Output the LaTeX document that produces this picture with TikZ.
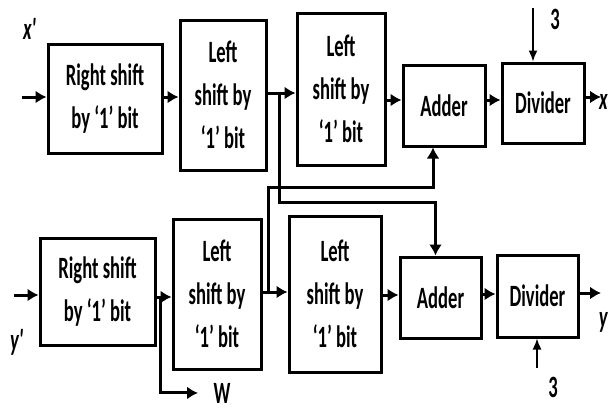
\documentclass[tikz,border=0pt]{standalone}
\usepackage{fontspec}
\setmainfont{Carlito}[FakeStretch=0.6]
\usetikzlibrary{arrows.meta}

\begin{document}
\begin{tikzpicture}[
    x=1pt, y=-1pt, line width=3pt,
    font={\fontsize{31pt}{43pt}\selectfont\bfseries},
    blk/.style={draw, align=center, inner sep=0pt},
    sig/.style={-{Latex[length=11pt,width=13pt]}},
    const/.style={line width=1.5pt, -{Latex[length=11pt,width=9pt]}},
    lbl/.style={inner sep=0pt},
]
\useasboundingbox (0,0) rectangle (610,410);
% upper path (x')
\node[blk, minimum width=114pt, minimum height=109pt] (rsx) at (105,98.5) {Right shift\\by ‘1’ bit};
\node[blk, minimum width=86pt, minimum height=150pt] (lsa) at (223,95) {Left\\shift by\\‘1’ bit};
\node[blk, minimum width=88pt, minimum height=152pt] (lsb) at (341,89) {Left\\shift by\\‘1’ bit};
\node[blk, minimum width=82pt, minimum height=81pt] (adx) at (444,105.5) {Adder};
\node[blk, minimum width=82pt, minimum height=80pt] (dvx) at (543,103) {Divider};
% lower path (y')
\node[blk, minimum width=115pt, minimum height=107pt] (rsy) at (97.5,291.5) {Right shift\\by ‘1’ bit};
\node[blk, minimum width=88pt, minimum height=150pt] (lsc) at (217,294) {Left\\shift by\\‘1’ bit};
\node[blk, minimum width=92pt, minimum height=156pt] (lsd) at (335,294) {Left\\shift by\\‘1’ bit};
\node[blk, minimum width=81pt, minimum height=81pt] (ady) at (440.5,297.5) {Adder};
\node[blk, minimum width=81pt, minimum height=82pt] (dvy) at (537.5,296) {Divider};
% labels
\node[lbl] (xin) at (31,29) {\textit{x\textquotesingle}};
\node[lbl] (yin) at (18,342) {\textit{y\textquotesingle}};
\node[lbl, anchor=east] (xout) at (609.5,102) {\textit{x}};
\node[lbl, anchor=east] (yout) at (609.5,322) {\textit{y}};
\node[lbl, anchor=base west] (w) at (212,403) {W};
\node[lbl] (tx) at (555,19) {3};
\node[lbl] (ty) at (553,387) {3};
\coordinate (xs) at (22,97);
\coordinate (ys) at (14,295);
\coordinate (bx) at (279,93);
\coordinate (by) at (268,292);
\coordinate (bw) at (160,297);
\coordinate (cx) at (533,8);
\coordinate (cy) at (537,368);
% upper arrows
\draw[sig] (xs) -- (xs -| rsx.west);
\draw[sig] (rsx.east |- 0,97) -- (lsa.west |- 0,97);
\draw[sig] (lsa.east |- 0,93) -- (lsb.west |- 0,93);
\draw[sig] (lsb.east |- 0,100) -- (adx.west |- 0,100);
\draw[sig] (adx.east |- 0,100) -- (dvx.west |- 0,100);
\draw[sig] (dvx.east |- 0,97) -- (601,97);
\draw[const] (cx) -- (cx |- dvx.north);
% lower arrows
\draw[sig] (ys) -- (ys -| rsy.west);
\draw[sig] (rsy.east |- 0,297) -- (lsc.west |- 0,297);
\draw[sig] (lsc.east |- 0,292) -- (lsd.west |- 0,292);
\draw[sig] (lsd.east |- 0,295) -- (ady.west |- 0,295);
\draw[sig] (ady.east |- 0,294) -- (dvy.west |- 0,294);
\draw[sig] (dvy.east |- 0,293) -- (601,293);
\draw[const] (cy) -- (cy |- dvy.south);
% cross links
\draw[sig] (bx) -- ++(0,109) -| ([xshift=-5pt]ady.north);
\draw[sig] (by) -- ++(0,-105) -| ([xshift=-11pt]adx.south);
\draw[sig] (bw) |- ([xshift=-14pt]w.west);
\end{tikzpicture}
\end{document}
